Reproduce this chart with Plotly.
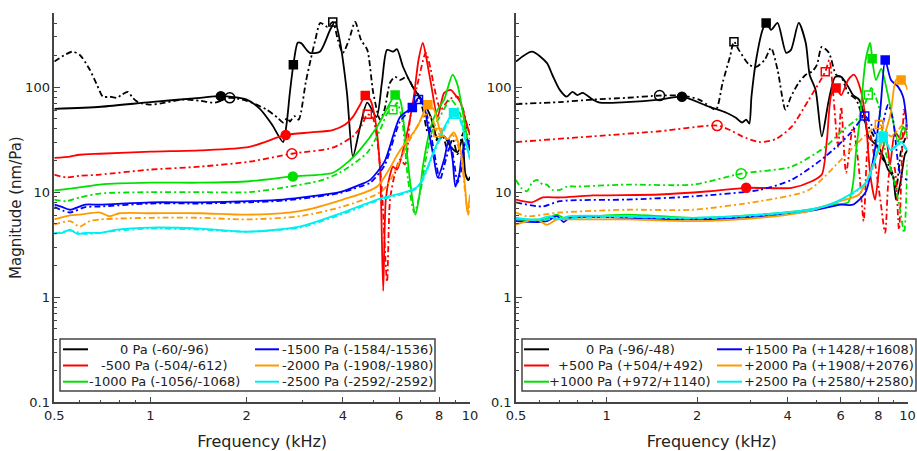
import plotly.graph_objects as go

W, H = 917, 451

COLORS = ["#000000", "#ff0000", "#00e000", "#0000ff", "#ff9900", "#00eeee"]

NEG_LABELS = ["0 Pa (-60/-96)", "-500 Pa (-504/-612)", "-1000 Pa (-1056/-1068)",
              "-1500 Pa (-1584/-1536)", "-2000 Pa (-1908/-1980)", "-2500 Pa (-2592/-2592)"]
POS_LABELS = ["0 Pa (-96/-48)", "+500 Pa (+504/+492)", "+1000 Pa (+972/+1140)",
              "+1500 Pa (+1428/+1608)", "+2000 Pa (+1908/+2076)", "+2500 Pa (+2580/+2580)"]

X_TICKS = [0.5, 1, 2, 4, 6, 8, 10]
X_TICK_TEXT = ["0.5", "1", "2", "4", "6", "8", "10"]
Y_TICKS = [0.1, 1, 10, 100]
Y_TICK_TEXT = ["0.1", "1", "10", "100"]

# ---------------- negative static pressure (left panel) ----------------
neg0_solid_f = [0.5, 0.7, 1.0, 1.43, 1.66, 2.0, 2.2, 2.4, 2.6, 2.67, 2.73, 2.8, 2.89, 2.96, 3.15, 3.39, 3.65, 3.78,
                3.91, 4.12, 4.3, 4.53, 4.77, 5.1, 5.3, 5.5, 5.74, 5.91, 6.17, 6.65, 7.17, 7.54, 7.92, 8.3, 8.7,
                9.14, 9.46, 9.67, 9.88, 10.0]
neg0_solid_m = [62, 65, 72, 79, 82, 76, 62, 44, 30, 46, 88, 163, 264, 262, 212, 217, 351, 417, 281, 88, 21.8, 42,
                71, 52, 110, 226, 217, 229, 156, 98, 71, 52, 32, 34, 27, 24, 32, 15, 13, 14]
neg0_dash_f = [0.5, 0.568, 0.6, 0.646, 0.68, 0.71, 0.745, 0.785, 0.81, 0.85, 0.88, 0.914, 0.99, 1.11, 1.26, 1.43,
               1.59, 1.77, 2.0, 2.31, 2.5, 2.6, 2.68, 2.73, 2.82, 2.91, 2.96, 3.06, 3.17, 3.28, 3.4, 3.58, 3.72,
               3.86, 4.0, 4.18, 4.37, 4.56, 4.77, 4.98, 5.23, 5.4, 5.62, 5.83, 6.04, 6.35, 6.65, 6.85, 7.12, 7.38,
               7.63, 7.92, 8.2, 8.52, 8.82, 9.14, 9.46, 9.81, 10.0]
neg0_dash_m = [175, 217, 203, 146, 105, 81, 81, 79, 84, 90, 79, 72, 68, 71, 76, 74, 71, 79, 74, 61, 51, 46, 51, 47,
               53, 49, 58, 110, 181, 281, 408, 374, 417, 281, 212, 281, 417, 281, 226, 88, 49, 61, 110, 125, 117,
               125, 98, 88, 61, 37, 44, 30, 35, 25, 32, 23, 35, 42, 44]

neg500_solid_f = [0.5, 0.56, 0.6, 0.695, 1.0, 1.43, 2.04, 2.65, 3.17, 3.72, 4.07, 4.3, 4.53, 4.7, 4.87, 5.05, 5.23,
                  5.35, 5.45, 5.6, 5.74, 5.91, 6.26, 6.65, 6.9, 7.12, 7.32, 7.54, 7.92, 8.3, 8.7, 9.0, 9.34, 9.67,
                  10.0]
neg500_solid_m = [21.2, 21.8, 22.7, 23.2, 24.3, 25, 27, 35, 37, 39, 44, 52, 68, 83, 76, 49, 16.4, 1.15, 8.5, 14,
                  17.5, 16.4, 30, 76, 181, 264, 181, 110, 52, 88, 94, 84, 71, 49, 35]
neg500_dash_f = [0.5, 0.546, 0.6, 0.695, 1.0, 1.43, 2.04, 2.77, 3.72, 4.3, 4.6, 4.77, 4.95, 5.12, 5.3, 5.5, 5.62,
                 5.83, 6.04, 6.26, 6.5, 6.9, 7.27, 7.54, 7.72, 8.1, 8.58, 9.14, 9.52, 9.81, 10.0]
neg500_dash_m = [14.7, 13.8, 14.3, 14.7, 16.4, 17.5, 19.5, 23.2, 26.5, 34, 44, 55, 52, 32, 10.5, 1.4, 8.5, 15.3,
                 20.4, 18.4, 52, 117, 212, 146, 101, 61, 76, 81, 61, 42, 35]

neg1000_solid_f = [0.5, 0.56, 0.695, 1.0, 1.43, 2.04, 2.79, 3.72, 4.2, 4.53, 5.12, 5.54, 5.83, 6.04, 6.26, 6.5,
                   6.75, 6.95, 7.12, 7.54, 7.92, 8.3, 8.82, 9.14, 9.46, 9.81, 10.0]
neg1000_solid_m = [10.4, 10.8, 11.8, 12.3, 12.3, 12.7, 14.1, 15.3, 20, 25.4, 42, 65, 84, 76, 35, 12.3, 6.1, 9.5,
                   17.5, 42, 61, 76, 131, 105, 61, 32, 25]
neg1000_dash_f = [0.5, 0.546, 0.6, 0.695, 1.0, 1.43, 2.04, 2.73, 3.4, 3.91, 4.77, 5.23, 5.54, 5.74, 5.91, 6.13,
                  6.4, 6.7, 7.01, 7.27, 7.63, 8.1, 8.7, 9.2, 9.67, 10.0]
neg1000_dash_m = [8.5, 8.2, 8.9, 9.7, 10.0, 10.0, 10.0, 11.3, 12.9, 15.3, 23.8, 39, 58, 61, 71, 49, 13.1, 6.4, 10.5,
                  20.4, 39, 54, 76, 61, 39, 32]

neg1500_solid_f = [0.5, 0.53, 0.56, 0.625, 0.695, 1.0, 1.43, 2.04, 2.6, 3.17, 3.91, 4.53, 4.87, 5.4, 6.04, 6.6,
                   6.9, 7.17, 7.38, 7.72, 7.92, 8.3, 8.58, 8.82, 9.0, 9.25, 9.46, 9.81, 10.0]
neg1500_solid_m = [7.6, 7.2, 6.8, 7.6, 7.6, 8.0, 8.0, 8.2, 8.5, 9.1, 10.0, 11.8, 13.1, 19.5, 52, 64, 79, 68, 42,
                   20.4, 13.8, 20.4, 32, 20.4, 11.3, 14.7, 23.8, 32, 25]
neg1500_dash_f = [0.5, 0.53, 0.56, 0.625, 0.695, 1.0, 1.43, 2.04, 2.6, 3.17, 3.91, 4.53, 4.87, 5.4, 6.04, 6.6, 6.9,
                  7.22, 7.5, 7.85, 8.05, 8.4, 8.7, 8.94, 9.14, 9.4, 9.6, 10.0]
neg1500_dash_m = [7.2, 6.7, 6.4, 7.2, 7.3, 7.8, 7.8, 8.0, 8.3, 8.9, 9.8, 11.3, 12.3, 17.9, 47, 64, 76, 64, 39,
                  18.3, 13.1, 20.4, 28, 18.3, 12.3, 16.4, 25, 32]

neg2000_solid_f = [0.5, 0.56, 0.6, 0.695, 0.745, 0.8, 1.0, 1.43, 2.0, 2.93, 4.0, 5.12, 6.04, 6.85, 7.38, 7.72, 8.1,
                   8.52, 8.88, 9.34, 9.67, 9.81, 10.0]
neg2000_solid_m = [5.5, 6.0, 6.1, 6.4, 5.9, 6.3, 6.3, 6.3, 6.1, 6.6, 8.5, 11.3, 25, 42, 68, 61, 37, 32, 37, 25,
                   10.5, 6.4, 9.5]
neg2000_dash_f = [0.5, 0.56, 0.6, 0.646, 0.695, 1.0, 1.43, 2.0, 2.93, 4.0, 5.35, 6.5, 7.27, 7.63, 7.92, 8.4, 8.82,
                  9.34, 9.67, 9.88, 10.0]
neg2000_dash_m = [4.9, 5.3, 4.7, 5.3, 5.5, 5.7, 5.7, 5.5, 5.9, 7.3, 10.5, 32, 55, 49, 37, 32, 35, 23, 9.5, 6.1, 8.5]

neg2500_solid_f = [0.5, 0.53, 0.56, 0.59, 0.625, 0.695, 0.785, 1.0, 1.43, 2.0, 2.93, 4.0, 5.12, 6.85, 7.72, 8.4,
                   8.88, 9.34, 9.67, 10.0]
neg2500_solid_m = [4.1, 4.1, 4.4, 4.0, 4.1, 4.1, 4.4, 4.6, 4.5, 4.2, 4.7, 6.4, 8.5, 11.3, 25, 44, 57, 49, 32, 20.4]
neg2500_dash_f = [0.5, 0.56, 0.625, 0.785, 1.0, 1.43, 2.0, 2.93, 4.0, 5.12, 6.85, 7.72, 8.4, 8.9, 9.34, 9.67, 10.0]
neg2500_dash_m = [4.0, 4.3, 4.0, 4.3, 4.5, 4.4, 4.2, 4.6, 6.2, 8.3, 11.0, 24, 42, 55, 47, 30, 21]

# ---------------- positive static pressure (right panel) ----------------
pos0_solid_f = [0.5, 0.565, 0.633, 0.66, 0.699, 0.737, 0.77, 0.8, 0.833, 0.9, 0.95, 1.166, 1.5, 1.78, 2.19, 2.5,
                2.69, 2.82, 2.91, 2.98, 3.03, 3.14, 3.3, 3.39, 3.52, 3.7, 3.95, 4.1, 4.35, 4.59, 4.73, 4.95, 5.19,
                5.48, 5.75, 6.02, 6.35, 6.59, 6.9, 7.15, 7.41, 7.69, 8.0, 8.3, 8.62, 8.95, 9.16, 9.45, 9.81, 10.0]
pos0_solid_m = [175, 217, 170, 131, 94, 81, 90, 84, 88, 76, 71, 72, 76, 81, 65, 57, 51, 46, 49, 45, 81, 181, 351,
                408, 351, 408, 212, 226, 408, 264, 131, 94, 34, 76, 125, 125, 101, 84, 76, 57, 34, 30, 27, 22, 16.4,
                14.1, 8.5, 11.8, 23, 25]
pos0_dash_f = [0.5, 0.699, 0.9, 1.166, 1.5, 1.78, 2.03, 2.19, 2.31, 2.43, 2.57, 2.65, 2.75, 2.98, 3.14, 3.35, 3.52,
               3.7, 3.93, 4.1, 4.35, 4.59, 4.81, 5.0, 5.19, 5.48, 5.79, 6.02, 6.35, 6.75, 7.15, 7.41, 7.69, 8.0, 8.3,
               8.62, 8.95, 9.16, 9.52, 9.81, 10.0]
pos0_dash_m = [69, 72, 76, 79, 83, 83, 76, 66, 61, 110, 194, 270, 226, 163, 156, 181, 236, 146, 61, 81, 110, 131,
               140, 163, 241, 212, 131, 125, 88, 76, 49, 42, 35, 25, 20.4, 18.3, 14.7, 10.5, 25, 32, 35]

pos500_solid_f = [0.5, 0.565, 0.614, 0.699, 0.9, 1.5, 2.19, 2.91, 4.12, 4.81, 5.19, 5.4, 5.58, 5.79, 6.02, 6.35,
                  6.65, 6.99, 7.26, 7.52, 7.8, 8.12, 8.49, 8.75, 9.09, 9.52, 10.0]
pos500_solid_m = [8.5, 8.0, 8.9, 8.9, 9.3, 9.5, 10.2, 11.0, 11.0, 12.7, 14.7, 32, 84, 98, 84, 117, 131, 94, 49, 14.7,
                  8.5, 20.4, 32, 18.3, 37, 32, 44]
pos500_dash_f = [0.5, 0.9, 1.5, 2.33, 2.57, 2.82, 3.22, 3.65, 4.12, 4.7, 5.33, 5.5, 5.66, 5.88, 6.02, 6.25, 6.59,
                 6.9, 7.15, 7.35, 7.52, 7.8, 8.12, 8.43, 8.75, 9.02, 9.37, 9.74, 10.0]
pos500_dash_m = [30, 34, 38, 43, 39, 34, 30, 32, 42, 76, 140, 181, 88, 27, 65, 15.3, 42, 16.4, 5.3, 25, 35, 19, 8.5,
                 4.1, 16.4, 17.5, 4.4, 61, 32]

pos1000_solid_f = [0.5, 0.587, 0.633, 0.684, 0.72, 0.755, 1.166, 1.93, 3.22, 4.7, 5.58, 6.35, 6.59, 6.75, 6.9,
                   7.07, 7.26, 7.52, 7.63, 7.86, 8.18, 8.49, 8.81, 9.3, 9.67, 10.0]
pos1000_solid_m = [5.5, 5.3, 5.6, 6.1, 5.7, 5.7, 6.1, 5.7, 6.1, 6.8, 7.6, 8.0, 12, 25, 42, 88, 181, 264, 186, 117,
                   150, 101, 61, 30, 42, 34]
pos1000_dash_f = [0.5, 0.52, 0.544, 0.565, 0.587, 0.614, 0.633, 0.66, 0.699, 0.737, 0.795, 1.166, 1.93, 2.8, 4.12,
                  5.33, 6.1, 6.9, 7.41, 7.58, 8.0, 8.43, 8.95, 9.45, 9.74, 10.0]
pos1000_dash_m = [13.1, 11.0, 10.2, 12.3, 13.1, 11.8, 11.8, 10.5, 10.5, 11.3, 11.3, 11.8, 11.8, 15, 17.5, 27, 39,
                  52, 84, 98, 68, 25, 14.1, 6.8, 4.1, 20]

pos1500_solid_f = [0.5, 0.587, 0.633, 0.684, 0.72, 0.755, 1.166, 1.93, 3.22, 4.7, 6.02, 6.59, 7.26, 7.69, 8.12,
                   8.43, 8.81, 9.3, 9.67, 10.0]
pos1500_solid_m = [5.3, 5.2, 5.3, 5.9, 5.2, 5.7, 5.7, 5.5, 5.9, 6.6, 7.6, 7.6, 10, 20.4, 61, 181, 117, 101, 81, 39]
pos1500_dash_f = [0.5, 0.614, 0.699, 1.166, 1.93, 3.22, 4.12, 5.33, 6.5, 7.21, 7.58, 8.0, 8.62, 8.95, 9.52, 10.0]
pos1500_dash_m = [8.0, 7.3, 8.2, 8.5, 9.1, 10.5, 13.1, 21.8, 37, 53, 44, 32, 68, 49, 14.1, 13.1]

pos2000_solid_f = [0.5, 0.544, 0.587, 0.633, 0.684, 0.755, 1.166, 1.93, 3.22, 4.7, 5.75, 6.9, 7.8, 8.3, 8.8, 9.16,
                   9.52, 9.81, 10.0]
pos2000_solid_m = [4.9, 5.3, 5.5, 4.9, 5.5, 5.5, 5.5, 5.3, 5.7, 6.6, 8.0, 9.5, 20.4, 32, 57, 117, 117, 108, 94]
pos2000_dash_f = [0.5, 0.544, 0.699, 1.166, 1.93, 3.22, 4.7, 6.02, 7.41, 8.06, 8.81, 9.3, 9.81, 10.0]
pos2000_dash_m = [6.4, 5.9, 6.4, 6.8, 6.8, 8.2, 10.5, 20.4, 37, 44, 34, 39, 46, 40]

pos2500_solid_f = [0.5, 0.587, 0.648, 0.684, 0.755, 1.166, 1.93, 3.22, 4.7, 5.75, 7.26, 8.12, 8.3, 8.81, 9.52, 10.0]
pos2500_solid_m = [5.7, 5.5, 5.9, 5.5, 5.9, 5.9, 5.7, 6.1, 6.8, 8.0, 12.3, 30, 34, 25, 30, 25]
pos2500_dash_f = [0.5, 0.587, 0.684, 1.166, 1.93, 3.22, 4.7, 5.75, 7.26, 8.12, 8.3, 8.81, 9.52, 10.0]
pos2500_dash_m = [5.6, 5.4, 5.6, 5.8, 5.6, 6.0, 6.7, 7.9, 12.0, 29, 33, 26, 29, 24]

# ---------------- characteristic-point markers (None = not marked) ----------------
neg_circle_solid_f = [1.66, 2.65, 2.79, None, None, None]
neg_circle_solid_m = [82, 35, 14.1, None, None, None]
neg_circle_dash_f = [1.77, 2.77, None, None, None, None]
neg_circle_dash_m = [79, 23.2, None, None, None, None]
neg_square_solid_f = [2.8, 4.7, 5.83, 6.6, 7.38, 8.88]
neg_square_solid_m = [163, 83, 84, 64, 68, 57]
neg_square_dash_f = [3.72, 4.77, 5.74, 6.9, 7.92, 8.95]
neg_square_dash_m = [417, 55, 61, 76, 37, 55]

pos_circle_solid_f = [1.78, 2.91, None, None, None, None]
pos_circle_solid_m = [81, 11.0, None, None, None, None]
pos_circle_dash_f = [1.5, 2.33, 2.8, None, None, None]
pos_circle_dash_m = [83, 43, 15, None, None, None]
pos_square_solid_f = [3.39, 5.79, 7.63, 8.43, 9.52, 8.3]
pos_square_solid_m = [408, 98, 186, 181, 117, 34]
pos_square_dash_f = [2.65, 5.33, 7.41, 7.21, 8.06, 8.18]
pos_square_dash_m = [270, 140, 84, 53, 44, 33]

NEG_SOLID = [(neg0_solid_f, neg0_solid_m), (neg500_solid_f, neg500_solid_m), (neg1000_solid_f, neg1000_solid_m),
             (neg1500_solid_f, neg1500_solid_m), (neg2000_solid_f, neg2000_solid_m), (neg2500_solid_f, neg2500_solid_m)]
NEG_DASH = [(neg0_dash_f, neg0_dash_m), (neg500_dash_f, neg500_dash_m), (neg1000_dash_f, neg1000_dash_m),
            (neg1500_dash_f, neg1500_dash_m), (neg2000_dash_f, neg2000_dash_m), (neg2500_dash_f, neg2500_dash_m)]
POS_SOLID = [(pos0_solid_f, pos0_solid_m), (pos500_solid_f, pos500_solid_m), (pos1000_solid_f, pos1000_solid_m),
             (pos1500_solid_f, pos1500_solid_m), (pos2000_solid_f, pos2000_solid_m), (pos2500_solid_f, pos2500_solid_m)]
POS_DASH = [(pos0_dash_f, pos0_dash_m), (pos500_dash_f, pos500_dash_m), (pos1000_dash_f, pos1000_dash_m),
            (pos1500_dash_f, pos1500_dash_m), (pos2000_dash_f, pos2000_dash_m), (pos2500_dash_f, pos2500_dash_m)]

DASHDOT = "6px,3px,2px,3px"
FONT = "DejaVu Sans"

fig = go.Figure()


def add_panel(xa, ya, solid, dash, markers):
    for i in range(6):
        for (f, m), style in ((solid[i], "solid"), (dash[i], DASHDOT)):
            fig.add_trace(go.Scatter(
                x=f, y=m, mode="lines", xaxis=xa, yaxis=ya, showlegend=False, hoverinfo="skip",
                line=dict(color=COLORS[i], width=1.8, dash=style, shape="spline", smoothing=0.7)))
    for (fx, my), symbol, size in markers:
        pts = [(a, b, COLORS[k]) for k, (a, b) in enumerate(zip(fx, my)) if a is not None]
        fig.add_trace(go.Scatter(
            x=[p[0] for p in pts], y=[p[1] for p in pts], mode="markers", xaxis=xa, yaxis=ya,
            showlegend=False, hoverinfo="skip",
            marker=dict(symbol=symbol, size=size, color=[p[2] for p in pts],
                        line=dict(width=1.5, color=[p[2] for p in pts]))))


add_panel("x", "y", NEG_SOLID, NEG_DASH, [
    ((neg_circle_solid_f, neg_circle_solid_m), "circle", 9),
    ((neg_circle_dash_f, neg_circle_dash_m), "circle-open", 10),
    ((neg_square_solid_f, neg_square_solid_m), "square", 8),
    ((neg_square_dash_f, neg_square_dash_m), "square-open", 8),
])
add_panel("x2", "y2", POS_SOLID, POS_DASH, [
    ((pos_circle_solid_f, pos_circle_solid_m), "circle", 9),
    ((pos_circle_dash_f, pos_circle_dash_m), "circle-open", 10),
    ((pos_square_solid_f, pos_square_solid_m), "square", 8),
    ((pos_square_dash_f, pos_square_dash_m), "square-open", 8),
])

x_minor = [0.6, 0.7, 0.8, 0.9, 3, 5, 7, 9]
y_minor = [k * 10 ** e for e in (-1, 0, 1, 2) for k in range(2, 10) if k * 10 ** e <= 500]

axis_style = dict(type="log", showline=True, linecolor="#444", linewidth=1.5, ticks="inside", ticklen=6,
                  tickwidth=1.2, tickcolor="#444", showgrid=False, zeroline=False, automargin=False,
                  ticklabeloverflow="allow", tickfont=dict(family=FONT, size=13, color="#222"))
xa_style = dict(axis_style, range=[-0.30103, 1.0], tickmode="array", tickvals=X_TICKS, ticktext=X_TICK_TEXT,
                minor=dict(tickmode="array", tickvals=x_minor, ticks="inside", ticklen=3, tickcolor="#444"),
                title=dict(text="Frequency (kHz)", font=dict(family=FONT, size=16, color="#222"), standoff=15))
ya_style = dict(axis_style, range=[-1.0, 2.705], tickmode="array", tickvals=Y_TICKS, ticktext=Y_TICK_TEXT,
                minor=dict(tickmode="array", tickvals=y_minor, ticks="inside", ticklen=3, tickcolor="#444"))

y_dom = [(H - 402.3) / H, (H - 13) / H]
fig.update_layout(
    width=W, height=H, margin=dict(l=0, r=0, t=0, b=0, autoexpand=False),
    paper_bgcolor="white", plot_bgcolor="white", showlegend=False,
    font=dict(family=FONT, color="#222"),
    xaxis=dict(xa_style, domain=[54.3 / W, 470 / W], anchor="y"),
    yaxis=dict(ya_style, domain=y_dom, anchor="x",
               title=dict(text="Magnitude (nm/Pa)", font=dict(family=FONT, size=15, color="#222"), standoff=0)),
    xaxis2=dict(xa_style, domain=[516 / W, 907.5 / W], anchor="y2"),
    yaxis2=dict(ya_style, domain=y_dom, anchor="x2"),
)


def px(x):
    return x / W


def py(y):
    return 1 - y / H


# hand-built two-column legends
shapes, annotations = [], []
rows = [349.3, 365.5, 381.7]
legend_specs = [
    (NEG_LABELS, (60, 339, 435, 391), [(63, 88, 164), (255, 279, 357)]),
    (POS_LABELS, (522, 339, 916, 391), [(524, 549, 630), (717, 742, 829)]),
]
for labels, (bx0, by0, bx1, by1), cols in legend_specs:
    shapes.append(dict(type="rect", xref="paper", yref="paper", x0=px(bx0), x1=px(bx1), y0=py(by1), y1=py(by0),
                       line=dict(color="#444", width=1.5), fillcolor="white", layer="above"))
    for i, label in enumerate(labels):
        lx0, lx1, tc = cols[i // 3]
        ry = rows[i % 3]
        shapes.append(dict(type="line", xref="paper", yref="paper", x0=px(lx0), x1=px(lx1), y0=py(ry), y1=py(ry),
                           line=dict(color=COLORS[i], width=2), layer="above"))
        annotations.append(dict(text=label, xref="paper", yref="paper", x=px(tc), y=py(ry), showarrow=False,
                                xanchor="center", yanchor="middle",
                                font=dict(family=FONT, size=13, color="#222")))

fig.update_layout(shapes=shapes, annotations=annotations)
fig.write_html("out.html")
